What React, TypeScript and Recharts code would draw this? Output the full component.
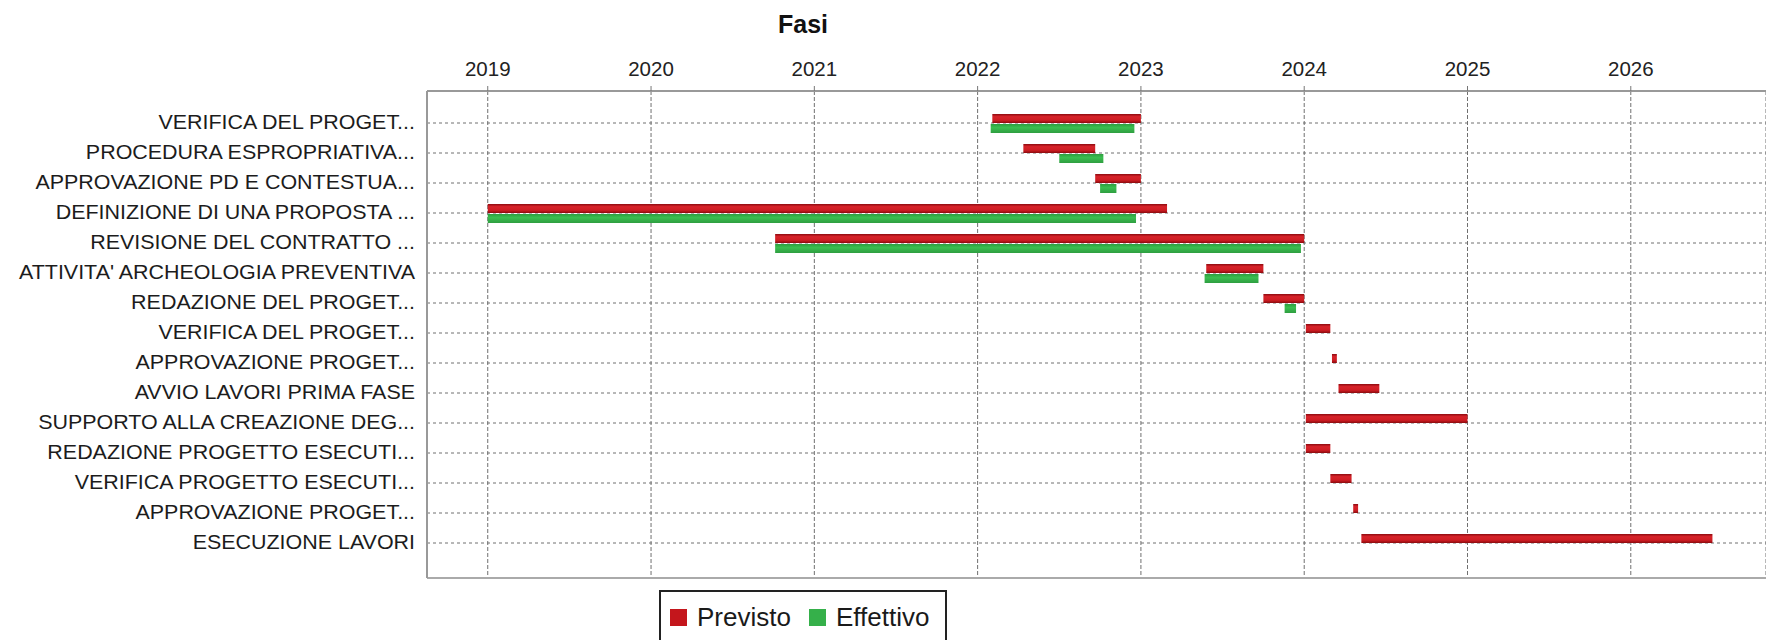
import React from "react";
import { BarChart, Bar, XAxis, YAxis, CartesianGrid, Legend } from "recharts";

// ---- data ----
const categories = [
  "VERIFICA DEL PROGET...",
  "PROCEDURA ESPROPRIATIVA...",
  "APPROVAZIONE PD E CONTESTUA...",
  "DEFINIZIONE DI UNA PROPOSTA ...",
  "REVISIONE DEL CONTRATTO ...",
  "ATTIVITA' ARCHEOLOGIA PREVENTIVA",
  "REDAZIONE DEL PROGET...",
  "VERIFICA DEL PROGET...",
  "APPROVAZIONE PROGET...",
  "AVVIO LAVORI PRIMA FASE",
  "SUPPORTO ALLA CREAZIONE DEG...",
  "REDAZIONE PROGETTO ESECUTI...",
  "VERIFICA PROGETTO ESECUTI...",
  "APPROVAZIONE PROGET...",
  "ESECUZIONE LAVORI",
];

// decimal years
const previstoStart = [2022.09, 2022.28, 2022.72, 2019.0, 2020.76, 2023.4, 2023.75, 2024.01, 2024.17, 2024.21, 2024.01, 2024.01, 2024.16, 2024.3, 2024.35];
const previstoEnd = [2023.0, 2022.72, 2023.0, 2023.16, 2024.0, 2023.75, 2024.0, 2024.16, 2024.2, 2024.46, 2025.0, 2024.16, 2024.29, 2024.33, 2026.5];
const effettivoStart = [2022.08, 2022.5, 2022.75, 2019.0, 2020.76, 2023.39, 2023.88, null, null, null, null, null, null, null, null];
const effettivoEnd = [2022.96, 2022.77, 2022.85, 2022.97, 2023.98, 2023.72, 2023.95, null, null, null, null, null, null, null, null];

const yearTicks = [2019, 2020, 2021, 2022, 2023, 2024, 2025, 2026];
const xDomain = [2018.628, 2026.828];

const chartTitle = "Fasi";
const seriesInfo = [
  { key: "previsto", name: "Previsto", color: "#C4161C", fill: "url(#gRed)" },
  { key: "effettivo", name: "Effettivo", color: "#35B04A", fill: "url(#gGreen)" },
];

const data = categories.map((c, i) => ({
  idx: i,
  previsto: previstoStart[i] != null ? [previstoStart[i], previstoEnd[i]] : null,
  effettivo: effettivoStart[i] != null ? [effettivoStart[i], effettivoEnd[i]] : null,
}));

const FONT = "'Liberation Sans', Arial, Helvetica, sans-serif";

const CatTick = (props: any) => {
  const { x, y, payload } = props;
  return (
    <g transform={`translate(${x},${y})`}>
      <text x={0} y={0} dy={6} textAnchor="end" transform="scale(1.1,1)" fontSize={19.5} fill="#1c1c1c" fontFamily={FONT}>
        {categories[payload.value]}
      </text>
    </g>
  );
};

const YearTick = (props: any) => {
  const { x, y, payload } = props;
  return (
    <text x={x} y={y} textAnchor="middle" fontSize={20.5} fill="#222" fontFamily={FONT}>
      {payload.value}
    </text>
  );
};

const renderLegend = () => (
  <div
    style={{
      boxSizing: "border-box",
      width: 288,
      height: 60,
      border: "2px solid #222",
      background: "#fff",
      display: "flex",
      alignItems: "flex-start",
      paddingTop: 17,
      paddingLeft: 9,
      fontFamily: FONT,
    }}
  >
    {seriesInfo.map((s, i) => (
      <div key={s.key} style={{ display: "flex", alignItems: "flex-start", marginLeft: i === 0 ? 0 : 18 }}>
        <div style={{ width: 17, height: 17, background: s.color, marginRight: 10 }} />
        <span style={{ fontSize: 26, lineHeight: "17px", color: "#1a1a1a" }}>{s.name}</span>
      </div>
    ))}
  </div>
);

export default function App() {
  return (
    <div style={{ position: "absolute", left: 0, top: 0, width: 1766, height: 640, overflow: "hidden", background: "#fff" }}>
      <BarChart
        width={1766}
        height={640}
        layout="vertical"
        data={data}
        margin={{ top: 61, right: 0, bottom: 32, left: 0 }}
        barSize={9}
        barGap={1}
      >
        <defs>
          <linearGradient id="gRed" x1="0" y1="0" x2="0" y2="1">
            <stop offset="0%" stopColor="#8E0B10" />
            <stop offset="30%" stopColor="#D8232A" />
            <stop offset="70%" stopColor="#CC1C22" />
            <stop offset="100%" stopColor="#8A0A0E" />
          </linearGradient>
          <linearGradient id="gGreen" x1="0" y1="0" x2="0" y2="1">
            <stop offset="0%" stopColor="#2E9E40" />
            <stop offset="40%" stopColor="#3BBE50" />
            <stop offset="100%" stopColor="#2E9E40" />
          </linearGradient>
        </defs>
        <text x={803} y={33} textAnchor="middle" fontSize={25} fontWeight="bold" fill="#111" fontFamily={FONT}>
          {chartTitle}
        </text>
        <CartesianGrid horizontal={false} vertical={true} stroke="#707070" strokeDasharray="4 2" />
        <CartesianGrid horizontal={true} vertical={false} stroke="#707070" strokeDasharray="3 3" />
        <XAxis
          type="number"
          orientation="top"
          domain={xDomain}
          allowDataOverflow
          ticks={yearTicks}
          height={30}
          tickSize={5}
          tickMargin={10}
          tick={<YearTick />}
          tickLine={{ stroke: "#777" }}
          axisLine={{ stroke: "#999", strokeWidth: 2 }}
        />
        <XAxis
          xAxisId="b"
          type="number"
          orientation="bottom"
          domain={xDomain}
          allowDataOverflow
          height={30}
          tick={false}
          tickLine={false}
          axisLine={{ stroke: "#aaa", strokeWidth: 2 }}
        />
        <YAxis
          type="category"
          dataKey="idx"
          width={427}
          padding={{ top: 17, bottom: 20 }}
          tickLine={false}
          tickSize={6}
          tickMargin={6}
          tick={<CatTick />}
          interval={0}
          axisLine={{ stroke: "#999", strokeWidth: 2 }}
        />
        <Legend
          layout="vertical"
          align="center"
          verticalAlign="middle"
          wrapperStyle={{ left: 659, top: 590, width: 288, height: 60 }}
          content={renderLegend}
        />
        {seriesInfo.map((s) => (
          <Bar key={s.key} dataKey={s.key} name={s.name} fill={s.fill} isAnimationActive={false} />
        ))}
      </BarChart>
    </div>
  );
}
